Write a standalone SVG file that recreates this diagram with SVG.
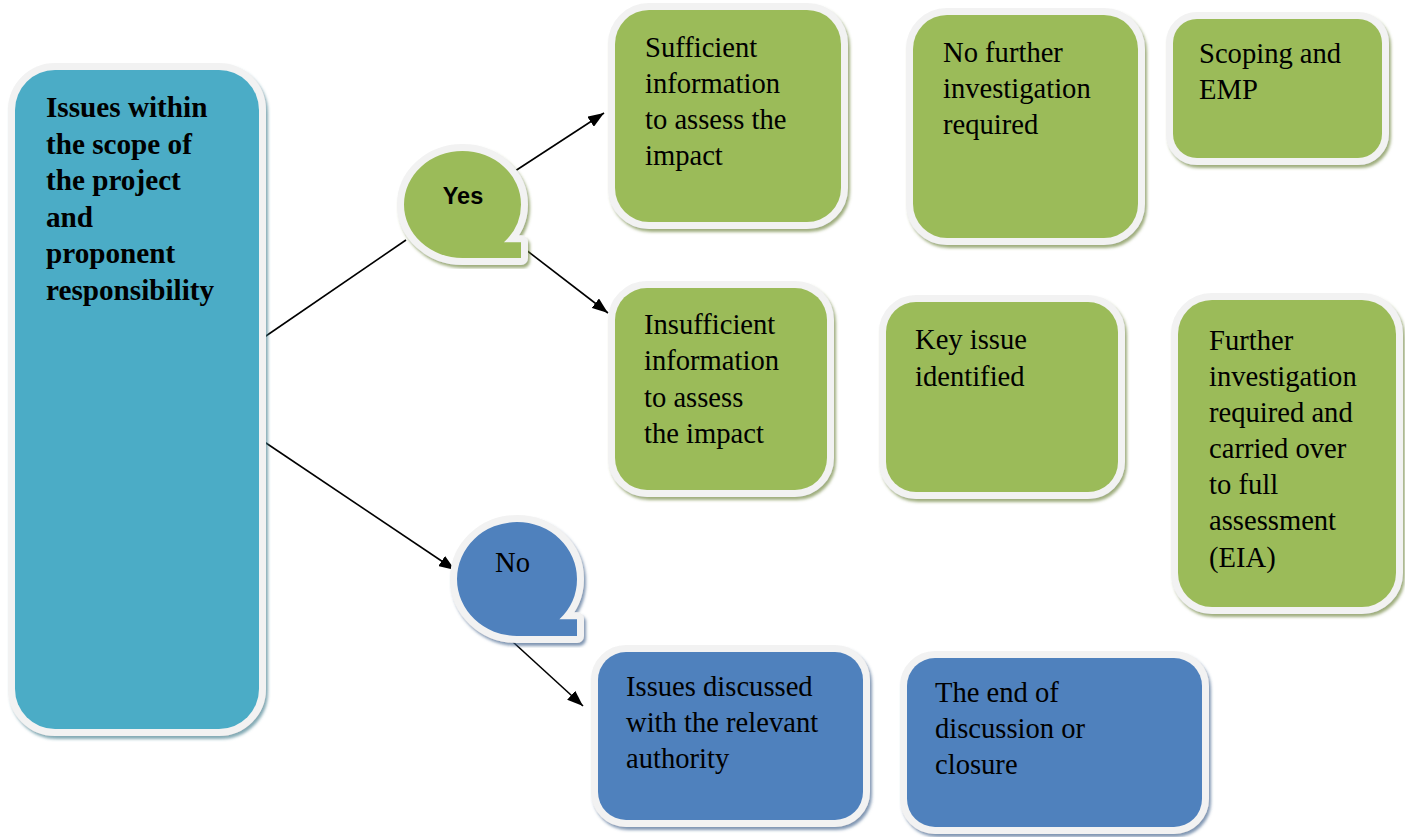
<svg xmlns="http://www.w3.org/2000/svg" width="1405" height="837" viewBox="0 0 1405 837">
  <defs>
    <style>
      .frame { fill: #f2f2f2; stroke: #f2f2f2; stroke-width: 14; stroke-linejoin: round; }
      .teal { fill: #4bacc6; }
      .green { fill: #9bbb59; }
      .blue { fill: #4f81bd; }
      .txt { font-family: "Liberation Serif", "Times New Roman", serif; font-size: 28.6px; fill: #000; }
      .bold { font-weight: bold; font-size: 29.2px; }
      .sans { font-family: "Liberation Sans", Arial, sans-serif; font-weight: bold; font-size: 23.5px; fill: #000; }
      .link { stroke: #000; stroke-width: 1.6; fill: none; }
    </style>
    <filter id="shTeal" x="-10%" y="-10%" width="120%" height="120%">
      <feGaussianBlur in="SourceAlpha" stdDeviation="1.8"/>
      <feOffset dx="2" dy="3" result="b"/>
      <feFlood flood-color="#3f7c8c" flood-opacity="0.65"/>
      <feComposite in2="b" operator="in"/>
      <feMerge><feMergeNode/><feMergeNode in="SourceGraphic"/></feMerge>
    </filter>
    <filter id="shGreen" x="-10%" y="-10%" width="120%" height="120%">
      <feGaussianBlur in="SourceAlpha" stdDeviation="1.8"/>
      <feOffset dx="2" dy="3" result="b"/>
      <feFlood flood-color="#6b8238" flood-opacity="0.65"/>
      <feComposite in2="b" operator="in"/>
      <feMerge><feMergeNode/><feMergeNode in="SourceGraphic"/></feMerge>
    </filter>
    <filter id="shBlue" x="-10%" y="-10%" width="120%" height="120%">
      <feGaussianBlur in="SourceAlpha" stdDeviation="1.8"/>
      <feOffset dx="2" dy="3" result="b"/>
      <feFlood flood-color="#3d5f8a" flood-opacity="0.65"/>
      <feComposite in2="b" operator="in"/>
      <feMerge><feMergeNode/><feMergeNode in="SourceGraphic"/></feMerge>
    </filter>
    <marker id="arrow" markerUnits="userSpaceOnUse" markerWidth="18" markerHeight="12" refX="16" refY="6" orient="auto">
      <path d="M0,0 L16,6 L0,12 z" fill="#000"/>
    </marker>
    <!-- tape-style bubbles: circle with a square tab at the lower right -->
    <path id="yesShape" d="M462.5,258 A58.5,53.5 0 0 1 404,204.5 A58.5,53.5 0 0 1 462.5,151 A58.5,53.5 0 0 1 521,204.5 A58.5,53.5 0 0 1 503.9,242.3 L521,242.3 L521,258 Z"/>
    <path id="noShape" d="M517,636 A60,57 0 0 1 457,579 A60,57 0 0 1 517,522 A60,57 0 0 1 577,579 A60,57 0 0 1 559.4,619.3 L577,619.3 L577,636 Z"/>
  </defs>

  <rect width="1405" height="837" fill="#fff"/>

  <!-- connectors -->
  <g id="connectors">
    <line class="link" x1="263" y1="338" x2="406" y2="240"/>
    <line class="link" x1="512" y1="173" x2="604" y2="113" marker-end="url(#arrow)"/>
    <line class="link" x1="517" y1="243" x2="608" y2="313" marker-end="url(#arrow)"/>
    <line class="link" x1="263" y1="441" x2="455" y2="570" marker-end="url(#arrow)"/>
    <line class="link" x1="513" y1="642" x2="583" y2="706" marker-end="url(#arrow)"/>
  </g>

  <g id="scope">
    <rect class="frame" filter="url(#shTeal)" x="15" y="70" width="244" height="659" rx="40"/>
    <rect class="teal" x="15" y="70" width="244" height="659" rx="40"/>
    <text class="txt bold" x="46">
      <tspan x="46" y="117">Issues within</tspan>
      <tspan x="46" y="154">the scope of</tspan>
      <tspan x="46" y="190">the project</tspan>
      <tspan x="46" y="227">and</tspan>
      <tspan x="46" y="263">proponent</tspan>
      <tspan x="46" y="300">responsibility</tspan>
    </text>
  </g>

  <g id="yes">
    <use href="#yesShape" class="frame" filter="url(#shGreen)"/>
    <use href="#yesShape" class="green"/>
    <text class="sans" x="463" y="204" text-anchor="middle">Yes</text>
  </g>

  <g id="no">
    <use href="#noShape" class="frame" filter="url(#shBlue)"/>
    <use href="#noShape" class="blue"/>
    <text class="txt" x="495" y="572">No</text>
  </g>

  <g id="sufficient">
    <rect class="frame" filter="url(#shGreen)" x="615" y="10" width="226" height="212" rx="34"/>
    <rect class="green" x="615" y="10" width="226" height="212" rx="34"/>
    <text class="txt">
      <tspan x="645" y="57">Sufficient</tspan>
      <tspan x="645" y="93">information</tspan>
      <tspan x="645" y="129">to assess the</tspan>
      <tspan x="645" y="165">impact</tspan>
    </text>
  </g>

  <g id="no-further">
    <rect class="frame" filter="url(#shGreen)" x="913" y="15" width="225" height="223" rx="34"/>
    <rect class="green" x="913" y="15" width="225" height="223" rx="34"/>
    <text class="txt">
      <tspan x="943" y="62">No further</tspan>
      <tspan x="943" y="98">investigation</tspan>
      <tspan x="943" y="134">required</tspan>
    </text>
  </g>

  <g id="scoping">
    <rect class="frame" filter="url(#shGreen)" x="1173" y="19" width="209" height="139" rx="24"/>
    <rect class="green" x="1173" y="19" width="209" height="139" rx="24"/>
    <text class="txt">
      <tspan x="1199" y="63">Scoping and</tspan>
      <tspan x="1199" y="99">EMP</tspan>
    </text>
  </g>

  <g id="insufficient">
    <rect class="frame" filter="url(#shGreen)" x="615" y="288" width="212" height="202" rx="32"/>
    <rect class="green" x="615" y="288" width="212" height="202" rx="32"/>
    <text class="txt">
      <tspan x="644" y="334">Insufficient</tspan>
      <tspan x="644" y="370">information</tspan>
      <tspan x="644" y="407">to assess</tspan>
      <tspan x="644" y="443">the impact</tspan>
    </text>
  </g>

  <g id="key-issue">
    <rect class="frame" filter="url(#shGreen)" x="886" y="302" width="232" height="190" rx="30"/>
    <rect class="green" x="886" y="302" width="232" height="190" rx="30"/>
    <text class="txt">
      <tspan x="915" y="349">Key issue</tspan>
      <tspan x="915" y="386">identified</tspan>
    </text>
  </g>

  <g id="further">
    <rect class="frame" filter="url(#shGreen)" x="1178" y="300" width="218" height="307" rx="34"/>
    <rect class="green" x="1178" y="300" width="218" height="307" rx="34"/>
    <text class="txt">
      <tspan x="1209" y="350">Further</tspan>
      <tspan x="1209" y="386">investigation</tspan>
      <tspan x="1209" y="422">required and</tspan>
      <tspan x="1209" y="458">carried over</tspan>
      <tspan x="1209" y="494">to full</tspan>
      <tspan x="1209" y="530">assessment</tspan>
      <tspan x="1209" y="567">(EIA)</tspan>
    </text>
  </g>

  <g id="discussed">
    <rect class="frame" filter="url(#shBlue)" x="598" y="652" width="265" height="168" rx="28"/>
    <rect class="blue" x="598" y="652" width="265" height="168" rx="28"/>
    <text class="txt">
      <tspan x="626" y="696">Issues discussed</tspan>
      <tspan x="626" y="732">with the relevant</tspan>
      <tspan x="626" y="768">authority</tspan>
    </text>
  </g>

  <g id="closure">
    <rect class="frame" filter="url(#shBlue)" x="907" y="658" width="295" height="169" rx="28"/>
    <rect class="blue" x="907" y="658" width="295" height="169" rx="28"/>
    <text class="txt">
      <tspan x="935" y="702">The end of</tspan>
      <tspan x="935" y="738">discussion or</tspan>
      <tspan x="935" y="774">closure</tspan>
    </text>
  </g>
</svg>
